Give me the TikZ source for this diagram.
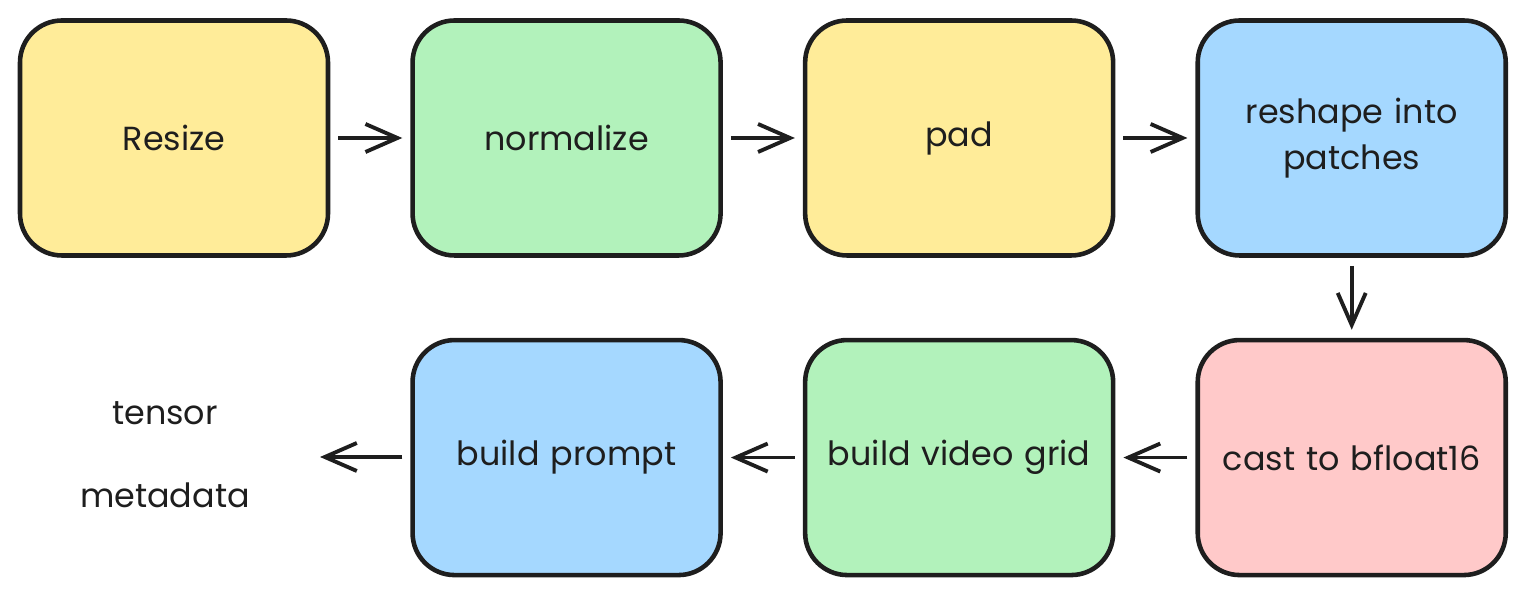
\documentclass[tikz,border=0pt]{standalone}
\usepackage{fontspec}
\setmainfont{Poppins}
\definecolor{sketchyellow}{HTML}{FFEC99}
\definecolor{sketchgreen}{HTML}{B2F2BB}
\definecolor{sketchblue}{HTML}{A5D8FF}
\definecolor{sketchred}{HTML}{FFC9C9}
\definecolor{sketchink}{HTML}{1E1E1E}
\usetikzlibrary{arrows.meta, positioning}

\begin{document}
\begin{tikzpicture}[
        node distance=0.8cm and 0.8cm,
        box/.style={rectangle, draw=sketchink, line width=1.3pt, rounded corners=0.42cm, minimum width=3.08cm, minimum height=2.35cm, text width=2.8cm, align=center, font=\fontsize{9.5}{13}\selectfont, text=sketchink},
        label/.style={font=\fontsize{9.5}{13}\selectfont, text=sketchink},
        arrow/.style={-{Straight Barb[length=3.2mm, width=2.8mm, line width=1.1pt]}, line width=1.1pt, sketchink, shorten >=0.08cm, shorten <=0.08cm}
    ]
        \useasboundingbox (0,0) rectangle (15.22,-5.90);
        % top row, left to right
        \node[box, fill=sketchyellow] (resize) at (1.74,-1.38) {Resize};
        \node[box, fill=sketchgreen, right=of resize] (normalize) {normalize};
        \node[box, fill=sketchyellow, right=of normalize] (pad) {pad};
        \node[box, fill=sketchblue, right=of pad] (reshape) {reshape into\\patches};
        % bottom row, right to left
        \node[box, fill=sketchred, below=of reshape] (cast) {cast to bfloat16};
        \node[box, fill=sketchgreen, left=of cast] (grid) {build video grid};
        \node[box, fill=sketchblue, left=of grid] (prompt) {build prompt};
        % outputs
        \node[label] (tensor) at (1.65,-4.13) {tensor};
        \node[label] (metadata) at (1.65,-4.95) {metadata};
        \coordinate (out) at (3.20,-4.57);

        \draw[arrow] (resize) -- (normalize);
        \draw[arrow] (normalize) -- (pad);
        \draw[arrow] (pad) -- (reshape);
        \draw[arrow] (reshape) -- (cast);
        \draw[arrow] (cast) -- (grid);
        \draw[arrow] (grid) -- (prompt);
        \draw[arrow, shorten >=0pt] (prompt.west |- out) -- (out);
    \end{tikzpicture}
\end{document}
